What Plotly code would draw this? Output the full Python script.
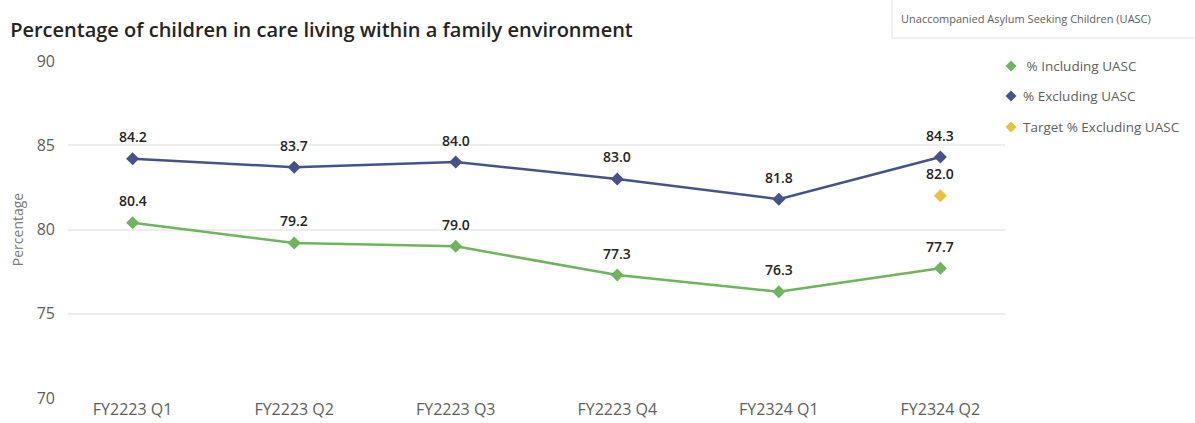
import plotly.graph_objects as go

# Quarterly figures
quarters = ["FY2223 Q1", "FY2223 Q2", "FY2223 Q3", "FY2223 Q4", "FY2324 Q1", "FY2324 Q2"]
pct_including_uasc = [80.4, 79.2, 79.0, 77.3, 76.3, 77.7]
pct_excluding_uasc = [84.2, 83.7, 84.0, 83.0, 81.8, 84.3]
target_excluding_uasc = [None, None, None, None, None, 82.0]

series_names = [" % Including UASC", "% Excluding UASC", "Target % Excluding UASC"]

GREEN = "#6DB55B"
NAVY = "#46538A"
GOLD = "#E9C23F"
FONT = "Open Sans"
DARK = "#252423"
GREY = "#605E5C"

W, H = 1195, 423
ML, MR, MT, MB = 68, 190, 61, 25
PW, PH = W - ML - MR, H - MT - MB


def px_to_paper(x, y):
    """Convert pixel position (from top-left) to paper coordinates."""
    return (x - ML) / PW, (H - MB - y) / PH


fig = go.Figure()

fig.add_trace(go.Scatter(
    x=quarters, y=pct_including_uasc, mode="lines+markers", name=series_names[0],
    line=dict(color=GREEN, width=2.5),
    marker=dict(symbol="diamond", size=10, color=GREEN),
))
fig.add_trace(go.Scatter(
    x=quarters, y=pct_excluding_uasc, mode="lines+markers", name=series_names[1],
    line=dict(color=NAVY, width=2.5),
    marker=dict(symbol="diamond", size=10, color=NAVY),
))
fig.add_trace(go.Scatter(
    x=quarters, y=target_excluding_uasc, mode="markers", name=series_names[2],
    marker=dict(symbol="diamond", size=10, color=GOLD),
))

# Data labels above each point
annotations = []
for series in (pct_including_uasc, pct_excluding_uasc, target_excluding_uasc):
    for q, v in zip(quarters, series):
        if v is None:
            continue
        annotations.append(dict(
            x=q, y=v, xref="x", yref="y", text=f"{v:.1f}",
            showarrow=False, yshift=22,
            font=dict(family=FONT, size=14, color=DARK, weight=600),
        ))

# Legend heading box
hx, hy = px_to_paper(899, 19)
annotations.append(dict(
    x=hx, y=hy, xref="paper", yref="paper", xanchor="left", yanchor="middle",
    text="Unaccompanied Asylum Seeking Children (UASC)", showarrow=False,
    font=dict(family=FONT, size=11, color=GREY),
))
bx0, by0 = px_to_paper(892, 38)
bx1, by1 = px_to_paper(1200, -1)
shapes = [dict(
    type="rect", xref="paper", yref="paper", x0=bx0, x1=bx1, y0=by0, y1=by1,
    line=dict(color="#E3E3E3", width=1), fillcolor="white", layer="below",
)]

# Marker-only legend: diamond key plus label for each series
legend_rows = [66, 96, 127]
half = 5.5
for name, color, row in zip(series_names, (GREEN, NAVY, GOLD), legend_rows):
    cx, cy = 1011, row
    pts = [px_to_paper(cx, cy - half), px_to_paper(cx + half, cy),
           px_to_paper(cx, cy + half), px_to_paper(cx - half, cy)]
    path = "M " + " L ".join(f"{px},{py}" for px, py in pts) + " Z"
    shapes.append(dict(type="path", xref="paper", yref="paper", path=path,
                       fillcolor=color, line=dict(width=0)))
    tx, ty = px_to_paper(1021, row)
    annotations.append(dict(
        x=tx, y=ty, xref="paper", yref="paper", xanchor="left", yanchor="middle",
        text=name.replace(" ", "&nbsp;", 1) if name.startswith(" ") else name,
        showarrow=False, font=dict(family=FONT, size=13.5, color=GREY),
    ))

fig.update_layout(
    width=W, height=H,
    margin=dict(l=ML, r=MR, t=MT, b=MB, autoexpand=False),
    paper_bgcolor="white", plot_bgcolor="white",
    font=dict(family=FONT, color=GREY),
    showlegend=False,
    title=dict(
        text="Percentage of children in care living within a family environment",
        x=0.0085, xanchor="left", y=0.928, yanchor="middle",
        font=dict(family=FONT, size=20, color=DARK, weight=600),
    ),
    xaxis=dict(
        range=[-0.4, 5.4], showgrid=False, zeroline=False, showline=False,
        tickfont=dict(size=16, color=GREY), ticks="", automargin=False,
    ),
    yaxis=dict(
        range=[70, 90], dtick=5, showgrid=True, gridcolor="#EDEDED", gridwidth=1.5,
        zeroline=False, showline=False, ticks="", ticklabelstandoff=12,
        tickfont=dict(size=16, color=GREY), automargin=False,
        title=dict(text="Percentage", font=dict(size=14, color="#7A7A7A"), standoff=9),
    ),
    shapes=shapes,
    annotations=annotations,
)

fig.write_html("out.html")
